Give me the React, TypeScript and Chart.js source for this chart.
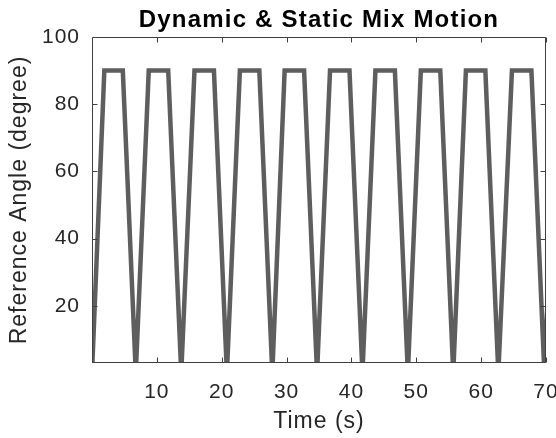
import React, { useEffect, useRef } from "react";
import { Chart, registerables } from "chart.js";

Chart.register(...registerables);

const titleText = "Dynamic & Static Mix Motion";
const xLabel = "Time (s)";
const yLabel = "Reference Angle (degree)";
const xTicks = [10, 20, 30, 40, 50, 60, 70];
const yTicks = [20, 40, 60, 80, 100];

const timeValues = [
  0, 1.9, 4.75, 6.75,
  8.75, 11.75, 13.76,
  15.8, 18.8, 20.8,
  22.8, 25.8, 27.8,
  29.7, 32.7, 34.7,
  36.7, 39.7, 41.7,
  43.7, 46.7, 48.7,
  50.7, 53.7, 55.7,
  57.65, 60.65, 62.65,
  64.75, 67.75, 69.75,
  71.75,
];
const angleValues = [
  0, 90, 90, 0,
  90, 90, 0,
  90, 90, 0,
  90, 90, 0,
  90, 90, 0,
  90, 90, 0,
  90, 90, 0,
  90, 90, 0,
  90, 90, 0,
  90, 90, 0,
  90,
];

const FONT = "'Liberation Sans', Arial, Helvetica, sans-serif";

const spacingPlugin = {
  id: "letterSpacing",
  beforeLayout(chart: any) {
    chart.ctx.letterSpacing = "1px";
  },
  beforeDraw(chart: any) {
    chart.ctx.letterSpacing = "1px";
  },
};

const boxPlugin = {
  id: "matlabBox",
  afterDraw(chart: any) {
    const { ctx, chartArea, scales } = chart;
    const l = Math.round(chartArea.left) + 0.5;
    const r = Math.round(chartArea.right) - 0.5;
    const t = Math.round(chartArea.top) + 0.5;
    const b = Math.round(chartArea.bottom) - 0.5;
    ctx.save();
    ctx.strokeStyle = "#404040";
    ctx.lineWidth = 1;
    ctx.beginPath();
    ctx.rect(l, t, r - l, b - t);
    const tl = 5;
    xTicks.forEach((v) => {
      const px = Math.round(scales.x.getPixelForValue(v)) + 0.5;
      ctx.moveTo(px, b);
      ctx.lineTo(px, b - tl);
      ctx.moveTo(px, t);
      ctx.lineTo(px, t + tl);
    });
    yTicks.forEach((v) => {
      const py = Math.round(scales.y.getPixelForValue(v)) + 0.5;
      ctx.moveTo(l, py);
      ctx.lineTo(l + tl, py);
      ctx.moveTo(r, py);
      ctx.lineTo(r - tl, py);
    });
    ctx.stroke();

    ctx.letterSpacing = "1.2px";
    ctx.font = `bold 24px ${FONT}`;
    ctx.fillStyle = "#000000";
    ctx.textAlign = "center";
    ctx.textBaseline = "alphabetic";
    ctx.fillText(titleText, (chartArea.left + chartArea.right) / 2, 27);
    ctx.restore();
  },
};

export default function App() {
  const canvasRef = useRef<HTMLCanvasElement | null>(null);

  useEffect(() => {
    if (!canvasRef.current) return;
    const points = timeValues.map((t, i) => ({ x: t, y: angleValues[i] }));
    const chart = new Chart(canvasRef.current, {
      type: "line",
      data: {
        datasets: [
          {
            data: points,
            borderColor: "#5e5e5e",
            borderWidth: 4.5,
            pointRadius: 0,
            tension: 0,
            fill: false,
          },
        ],
      },
      options: {
        animation: false,
        responsive: false,
        maintainAspectRatio: false,
        layout: { padding: { left: 0, right: 10, top: 37, bottom: 0 } },
        plugins: {
          legend: { display: false },
          title: { display: false },
          tooltip: { enabled: false },
        },
        scales: {
          x: {
            type: "linear",
            min: 0,
            max: 70,
            afterBuildTicks: (s: any) => {
              s.ticks = xTicks.map((v) => ({ value: v }));
            },
            afterFit: (s: any) => {
              s.height = 75;
              s.paddingLeft = 0;
              s.paddingRight = 0;
            },
            ticks: {
              autoSkip: false,
              maxRotation: 0,
              padding: 17,
              color: "#262626",
              font: { size: 21, family: FONT },
            },
            grid: { display: false, drawTicks: false },
            border: { display: false },
            title: {
              display: true,
              text: xLabel,
              color: "#262626",
              font: { size: 23, family: FONT },
              padding: { top: 0, bottom: 3 },
            },
          },
          y: {
            type: "linear",
            min: 3,
            max: 100,
            afterBuildTicks: (s: any) => {
              s.ticks = yTicks.map((v) => ({ value: v }));
            },
            afterFit: (s: any) => {
              s.width = 92;
              s.paddingTop = 0;
              s.paddingBottom = 0;
            },
            ticks: {
              autoSkip: false,
              padding: 12,
              color: "#262626",
              font: { size: 21, family: FONT },
            },
            grid: { display: false, drawTicks: false },
            border: { display: false },
            title: {
              display: true,
              text: yLabel,
              color: "#262626",
              font: { size: 23, family: FONT },
              padding: { top: 6, bottom: 0 },
            },
          },
        },
      },
      plugins: [spacingPlugin, boxPlugin],
    });
    return () => chart.destroy();
  }, []);

  return (
    <div style={{ position: "absolute", left: 0, top: 0, width: 556, height: 438, background: "#ffffff" }}>
      <canvas ref={canvasRef} width={556} height={438} />
    </div>
  );
}
